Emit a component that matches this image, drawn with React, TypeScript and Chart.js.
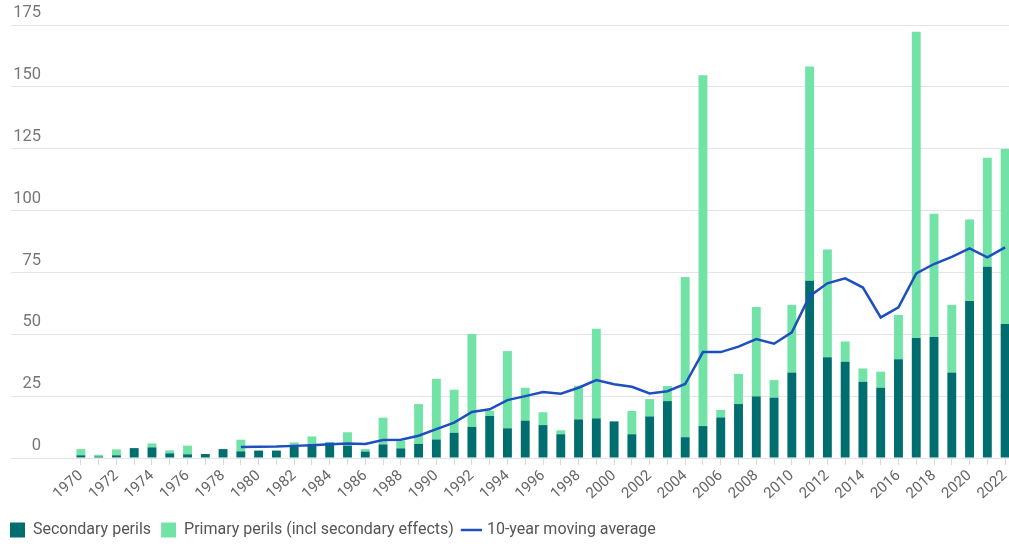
import React, { useEffect, useRef } from "react";
import { Chart, registerables } from "chart.js";

Chart.register(...registerables);

const years = [
  "1970", "1971", "1972", "1973", "1974", "1975", "1976", "1977", "1978", "1979",
  "1980", "1981", "1982", "1983", "1984", "1985", "1986", "1987", "1988", "1989",
  "1990", "1991", "1992", "1993", "1994", "1995", "1996", "1997", "1998", "1999",
  "2000", "2001", "2002", "2003", "2004", "2005", "2006", "2007", "2008", "2009",
  "2010", "2011", "2012", "2013", "2014", "2015", "2016", "2017", "2018", "2019",
  "2020", "2021", "2022",
];

// Secondary perils (dark bars)
const secondary = [
  1.1, 0.6, 1.1, 4.0, 4.3, 1.9, 1.5, 1.6, 3.6, 2.7,
  3.0, 3.0, 4.6, 5.6, 6.2, 5.0, 2.6, 5.5, 3.9, 5.7,
  7.5, 10.2, 12.6, 17.0, 12.0, 15.1, 13.3, 9.6, 15.6, 16.0,
  14.8, 9.6, 16.8, 23.0, 8.4, 12.9, 16.4, 21.8, 24.9, 24.4,
  34.6, 71.6, 40.7, 38.9, 30.8, 28.4, 39.9, 48.5, 48.9, 34.6,
  63.5, 77.3, 54.2,
];

// Primary perils (incl secondary effects), stacked on top
const primary = [
  2.5, 0.7, 2.4, 0, 1.6, 1.2, 3.5, 0, 0, 4.7,
  0, 0, 1.7, 3.1, 0.3, 5.4, 1.0, 10.8, 3.1, 16.1,
  24.5, 17.4, 37.5, 2.1, 31.2, 13.3, 5.2, 1.6, 13.6, 36.2,
  0, 9.4, 7.0, 6.1, 64.8, 141.8, 3.0, 12.2, 36.1, 7.1,
  27.3, 86.6, 43.6, 8.2, 5.4, 6.5, 17.9, 123.8, 49.8, 27.3,
  32.9, 44.0, 70.7,
];

// 10-year moving average
const movingAvg = [
  null, null, null, null, null, null, null, null, null, 4.4,
  4.5, 4.6, 4.9, 5.2, 5.6, 5.9, 5.7, 7.3, 7.4, 9.0,
  11.7, 14.3, 18.6, 19.7, 23.4, 25.0, 26.7, 26.0, 28.4, 31.5,
  29.8, 28.8, 26.1, 27.0, 29.9, 42.8, 42.8, 45.0, 48.1, 46.2,
  50.8, 65.4, 70.6, 72.6, 68.9, 56.8, 60.9, 74.6, 78.4, 81.3,
  84.7, 81.1, 85.1,
];

const seriesLabels = [
  "Secondary perils",
  "Primary perils (incl secondary effects)",
  "10-year moving average",
];

const FONT = "Roboto, 'Noto Sans', sans-serif";

export default function App() {
  const ref = useRef<HTMLCanvasElement>(null);

  useEffect(() => {
    if (!ref.current) return;
    const chart = new Chart(ref.current, {
      type: "bar",
      data: {
        labels: years,
        datasets: [
          {
            type: "bar",
            label: seriesLabels[0],
            data: secondary,
            backgroundColor: "#006e6e",
            borderWidth: 0,
            stack: "bars",
            order: 1,
            barPercentage: 0.5,
            categoryPercentage: 1,
          },
          {
            type: "bar",
            label: seriesLabels[1],
            data: primary,
            backgroundColor: "#72e3a6",
            borderWidth: 0,
            stack: "bars",
            order: 1,
            barPercentage: 0.5,
            categoryPercentage: 1,
          },
          {
            type: "line",
            label: seriesLabels[2],
            data: movingAvg as any,
            borderColor: "#1e4fbf",
            backgroundColor: "#1e4fbf",
            borderWidth: 2.5,
            pointRadius: 0,
            tension: 0,
            fill: false,
            stack: "avg",
            order: 0,
          } as any,
        ],
      },
      options: {
        responsive: false,
        animation: false,
        devicePixelRatio: 1,
        layout: { padding: { top: 25, right: 2, left: 0, bottom: 0 } },
        plugins: {
          tooltip: { enabled: false },
          legend: {
            position: "bottom",
            align: "start",
            labels: {
              usePointStyle: true,
              boxWidth: 15,
              boxHeight: 15,
              padding: 10,
              color: "#555",
              font: { family: FONT, size: 16 },
              generateLabels: (c: any) => {
                const items = (Chart.defaults.plugins.legend.labels as any).generateLabels(c);
                items.sort((a: any, b: any) => a.datasetIndex - b.datasetIndex);
                return items.map((it: any) => ({
                  ...it,
                  pointStyle: it.datasetIndex === 2 ? "line" : "rect",
                  lineWidth: it.datasetIndex === 2 ? 2.5 : 0,
                  fontColor: "#555",
                }));
              },
            },
          },
        },
        scales: {
          x: {
            stacked: true,
            offset: true,
            grid: {
              display: true,
              drawOnChartArea: false,
              drawTicks: true,
              tickLength: 7,
              offset: false,
              color: "#d8d8d8",
            },
            border: { display: false },
            ticks: {
              autoSkip: false,
              minRotation: 42,
              maxRotation: 42,
              padding: 2,
              color: "#666",
              font: { family: FONT, size: 15 },
              callback: (_v: any, i: number) => (i % 2 === 0 ? years[i] : ""),
            },
            afterFit: (s: any) => {
              s.height = 54;
              s.paddingLeft = 0;
              s.paddingRight = 0;
            },
          },
          y: {
            stacked: true,
            min: 0,
            max: 175,
            ticks: {
              stepSize: 25,
              padding: -30,
              labelOffset: -12,
              color: "#777",
              font: { family: FONT, size: 16.5 },
            },
            grid: {
              color: "#e4e4e4",
              lineWidth: 1,
              drawTicks: true,
              tickLength: 61,
            },
            border: { display: false },
            afterFit: (s: any) => {
              s.width = 72;
              s.paddingTop = 0;
              s.paddingBottom = 0;
            },
          },
        },
      },
    });
    return () => chart.destroy();
  }, []);

  return (
    <div
      style={{
        position: "absolute",
        left: 0,
        top: 0,
        width: 1009,
        height: 546,
        overflow: "hidden",
        background: "#fff",
      }}
    >
      <canvas ref={ref} width={1016} height={548} style={{ display: "block" }} />
    </div>
  );
}
